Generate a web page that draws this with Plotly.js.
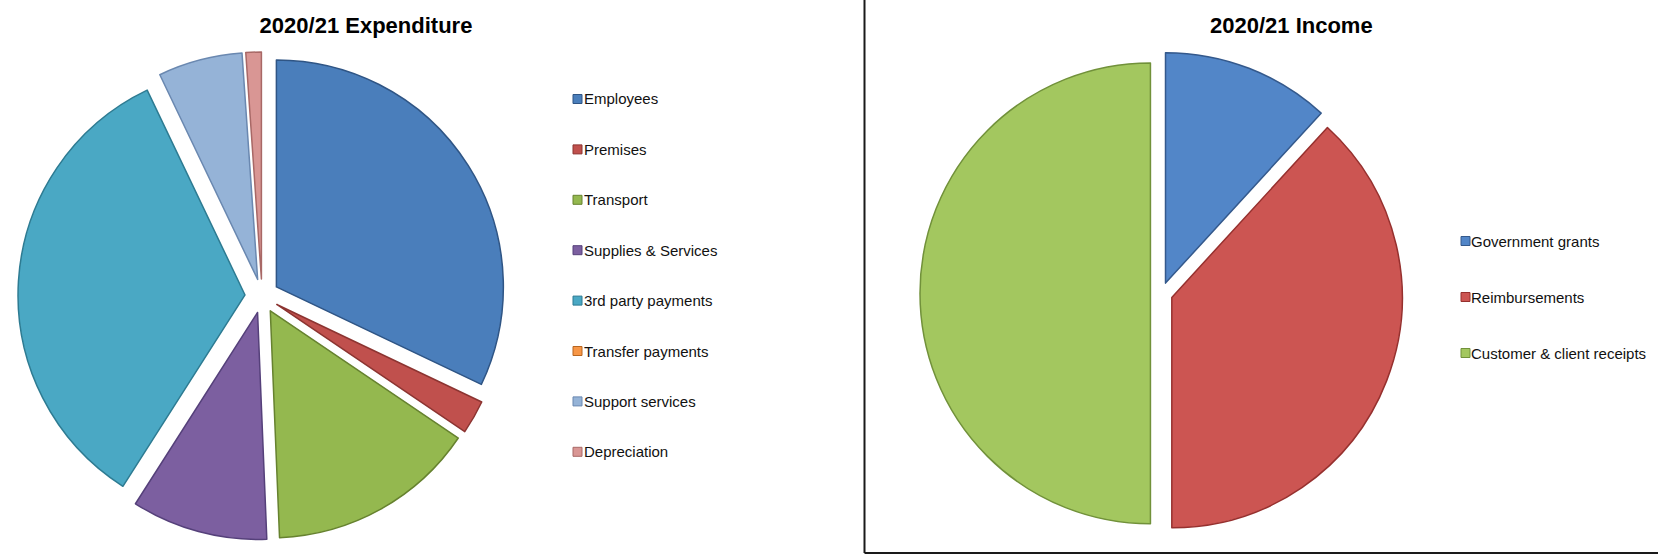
<!DOCTYPE html>
<html>
<head>
<meta charset="utf-8">
<script src="https://cdn.plot.ly/plotly-3.0.1.min.js"></script>
<style>
  html, body { margin: 0; padding: 0; background: #ffffff; }
  #chart { width: 1658px; height: 555px; }
</style>
</head>
<body>
<div id="chart"></div>
<script>
// ---------- data ----------
const expTitle = "2020/21 Expenditure";
const expLabels = ["Employees", "Premises", "Transport", "Supplies & Services",
                   "3rd party payments", "Transfer payments", "Support services", "Depreciation"];
const expValues = [32.1, 2.4, 14.9, 9.7, 33.9, 0, 6.0, 1.1];
const expColors = ["#4a7ebb", "#c0504d", "#94b84f", "#7c5fa0",
                   "#4aa8c4", "#f79646", "#95b3d7", "#d99694"];
const expEdge   = ["#2f5585", "#8c3431", "#66822f", "#55407a",
                   "#2d7b92", "#b8651f", "#6a88b0", "#a86866"];

const incTitle = "2020/21 Income";
const incLabels = ["Government grants", "Reimbursements", "Customer & client receipts"];
const incValues = [11.8, 38.2, 50.0];
const incColors = ["#5286c8", "#cc5552", "#a3c75f"];
const incEdge   = ["#34598c", "#96302e", "#71913a"];

// ---------- layout helpers ----------
const W = 1658, H = 555;
const px = x => x / W;
const py = y => 1 - y / H;

const expPull = 0.075, incPull = 0.048;
const edgeWidths = vals => vals.map(v => (v > 0 ? 1.5 : 0));

const traces = [
  {
    type: "pie",
    labels: expLabels,
    values: expValues,
    sort: false,
    direction: "clockwise",
    rotation: 0,
    pull: expValues.map(() => expPull),
    marker: { colors: expColors, line: { color: expEdge, width: edgeWidths(expValues) } },
    textinfo: "none",
    hoverinfo: "label+percent",
    showlegend: false,
    domain: { x: [px(262 - 244), px(262 + 244)], y: [py(296 + 244), py(296 - 244)] }
  },
  {
    type: "pie",
    labels: incLabels,
    values: incValues,
    sort: false,
    direction: "clockwise",
    rotation: 0,
    pull: incValues.map(() => incPull),
    marker: { colors: incColors, line: { color: incEdge, width: edgeWidths(incValues) } },
    textinfo: "none",
    hoverinfo: "label+percent",
    showlegend: false,
    domain: { x: [px(1161.5 - 241.5), px(1161.5 + 241.5)], y: [py(293.4 + 241.5), py(293.4 - 241.5)] }
  }
];

const legendFont = { family: "Liberation Sans, Arial, sans-serif", size: 15, color: "#111111" };
const annotations = [];
const shapes = [];

function addLegend(labels, colors, edges, sqX, textX, y0, step) {
  labels.forEach((lab, i) => {
    const yc = y0 + i * step;
    shapes.push({
      type: "rect", xref: "paper", yref: "paper",
      x0: px(sqX), x1: px(sqX + 9), y0: py(yc + 4.5), y1: py(yc - 4.5),
      fillcolor: colors[i], line: { color: edges[i], width: 1 }
    });
    annotations.push({
      xref: "paper", yref: "paper", x: px(textX), y: py(yc),
      xanchor: "left", yanchor: "middle", showarrow: false,
      text: lab, font: legendFont, borderpad: 0
    });
  });
}
addLegend(expLabels, expColors, expEdge, 573, 583, 99, 50.4);
addLegend(incLabels, incColors, incEdge, 1461, 1470, 241, 56);

annotations.push({
  xref: "paper", yref: "paper", x: px(1291), y: py(25.5),
  xanchor: "center", yanchor: "middle", showarrow: false,
  text: "<b>" + incTitle + "</b>",
  font: { family: "Liberation Sans, Arial, sans-serif", size: 22, color: "#000000" }
});

// border of the income panel (left and bottom edges visible)
shapes.push({ type: "line", xref: "paper", yref: "paper",
  x0: px(864.5), x1: px(864.5), y0: py(553), y1: 1, line: { color: "#1a1a1a", width: 2 } });
shapes.push({ type: "line", xref: "paper", yref: "paper",
  x0: px(864.5), x1: 1, y0: py(553), y1: py(553), line: { color: "#1a1a1a", width: 2 } });

const layout = {
  width: W, height: H,
  margin: { l: 0, r: 0, t: 0, b: 0 },
  paper_bgcolor: "#ffffff",
  plot_bgcolor: "#ffffff",
  showlegend: false,
  title: {
    text: "<b>" + expTitle + "</b>",
    x: px(366), xanchor: "center", xref: "paper",
    y: py(25.5), yanchor: "middle", yref: "container",
    font: { family: "Liberation Sans, Arial, sans-serif", size: 22, color: "#000000" }
  },
  annotations: annotations,
  shapes: shapes
};

Plotly.newPlot("chart", traces, layout, { displayModeBar: false, staticPlot: false });
</script>
</body>
</html>
